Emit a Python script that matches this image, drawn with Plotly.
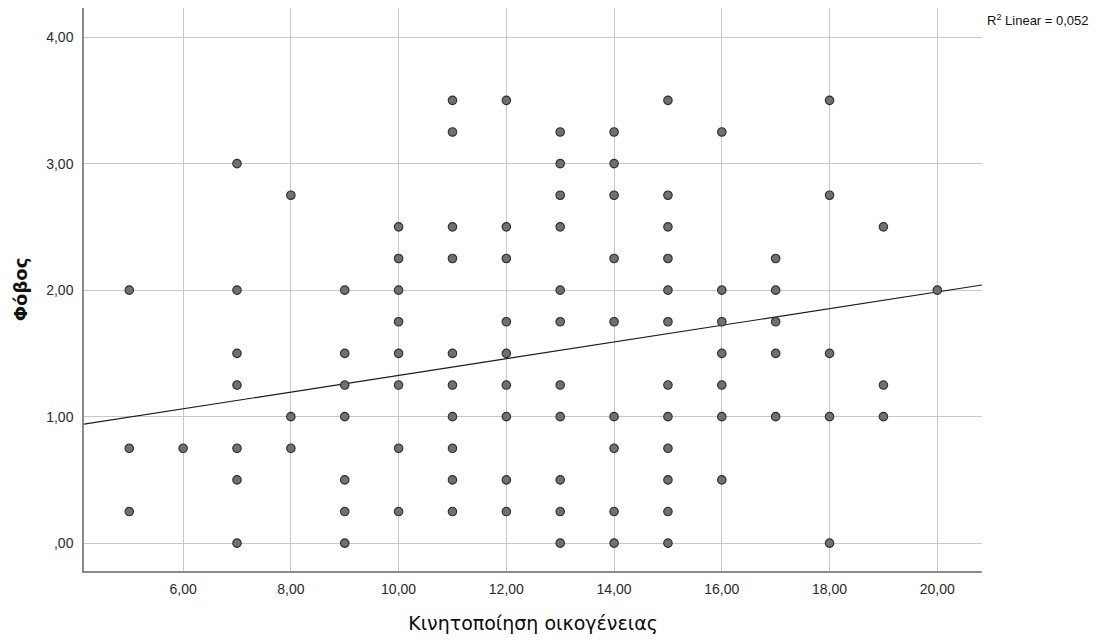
import plotly.graph_objects as go

# Κινητοποίηση οικογένειας (x) and Φόβος (y) observations, grouped by x value
x_levels = [5, 6, 7, 8, 9, 10, 11, 12, 13, 14, 15, 16, 17, 18, 19, 20]
y_by_level = [
    [2.00, 0.75, 0.25],
    [0.75],
    [3.00, 2.00, 1.50, 1.25, 0.75, 0.50, 0.00],
    [2.75, 1.00, 0.75],
    [2.00, 1.50, 1.25, 1.00, 0.50, 0.25, 0.00],
    [2.50, 2.25, 2.00, 1.75, 1.50, 1.25, 0.75, 0.25],
    [3.50, 3.25, 2.50, 2.25, 1.50, 1.25, 1.00, 0.75, 0.50, 0.25],
    [3.50, 2.50, 2.25, 1.75, 1.50, 1.25, 1.00, 0.50, 0.25],
    [3.25, 3.00, 2.75, 2.50, 2.00, 1.75, 1.25, 1.00, 0.50, 0.25, 0.00],
    [3.25, 3.00, 2.75, 2.25, 1.75, 1.00, 0.75, 0.25, 0.00],
    [3.50, 2.75, 2.50, 2.25, 2.00, 1.75, 1.25, 1.00, 0.75, 0.50, 0.25, 0.00],
    [3.25, 2.00, 1.75, 1.50, 1.25, 1.00, 0.50],
    [2.25, 2.00, 1.75, 1.50, 1.00],
    [3.50, 2.75, 1.50, 1.00, 0.00],
    [2.50, 1.25, 1.00],
    [2.00],
]

# Linear fit line (intercept, slope) and its R²
fit_intercept = 0.666
fit_slope = 0.066
r_squared_label = "0,052"

x_tick_vals = [6, 8, 10, 12, 14, 16, 18, 20]
x_tick_text = ["6,00", "8,00", "10,00", "12,00", "14,00", "16,00", "18,00", "20,00"]
y_tick_vals = [0, 1, 2, 3, 4]
y_tick_text = [",00", "1,00", "2,00", "3,00", "4,00"]

x_range = [4.16, 20.83]
y_range = [-0.22, 4.23]

xs, ys = [], []
for xv, yvals in zip(x_levels, y_by_level):
    for yv in yvals:
        xs.append(xv)
        ys.append(yv)

fit_x = x_range
fit_y = [fit_intercept + fit_slope * v for v in fit_x]

font_family = "Liberation Sans, Arial, sans-serif"
title_family = "DejaVu Sans, Verdana, sans-serif"

fig = go.Figure()
fig.add_trace(go.Scatter(
    x=fit_x, y=fit_y, mode="lines",
    line=dict(color="#1a1a1a", width=1.2),
    hoverinfo="skip", showlegend=False,
))
fig.add_trace(go.Scatter(
    x=xs, y=ys, mode="markers",
    marker=dict(size=8.5, color="#707070", line=dict(color="#2e2e2e", width=1.1)),
    showlegend=False,
))

fig.update_layout(
    width=1100, height=644,
    margin=dict(l=84, r=118, t=8, b=73),
    paper_bgcolor="white", plot_bgcolor="white",
    font=dict(family=font_family, size=14, color="#2a2a2a"),
    annotations=[dict(
        text="R<sup>2</sup> Linear = " + r_squared_label,
        xref="paper", yref="paper", x=1.003, y=0.979,
        xanchor="left", yanchor="middle", showarrow=False,
        font=dict(family=font_family, size=13, color="#111111"),
    )],
)
fig.update_xaxes(
    range=x_range, tickvals=x_tick_vals, ticktext=x_tick_text,
    showgrid=True, gridcolor="#c8c8c8", gridwidth=1,
    showline=True, linecolor="#8a8a8a", linewidth=1.5,
    zeroline=False, ticks="", ticklabelstandoff=4,
    title=dict(text="Κινητοποίηση οικογένειας", standoff=21,
               font=dict(family=title_family, size=19, color="#0a0a0a")),
)
fig.update_yaxes(
    range=y_range, tickvals=y_tick_vals, ticktext=y_tick_text,
    showgrid=True, gridcolor="#c8c8c8", gridwidth=1,
    showline=True, linecolor="#8a8a8a", linewidth=1.5,
    zeroline=False, ticks="", ticklabelstandoff=6,
    title=dict(text="<b>Φόβος</b>", standoff=14,
               font=dict(family=title_family, size=18, color="#111111")),
)

fig.write_html("out.html")
